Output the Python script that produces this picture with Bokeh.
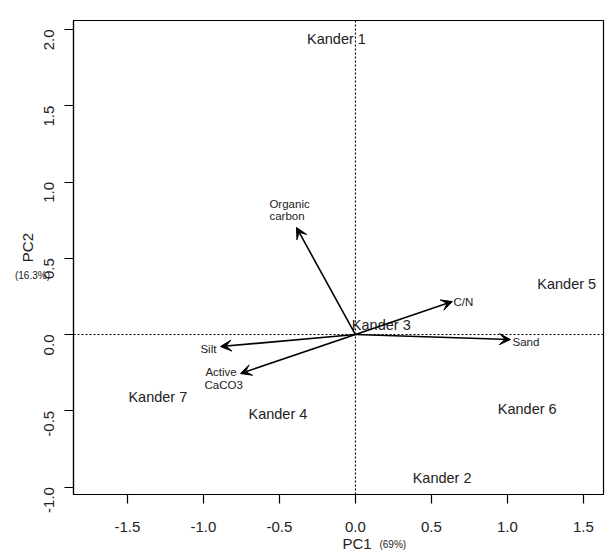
import math
from bokeh.plotting import figure
from bokeh.models import Range1d, FixedTicker, Span, Arrow, VeeHead, Label, ColumnDataSource
from bokeh.embed import file_html
from bokeh.resources import INLINE
from bokeh.core.properties import value

# ---- data ----
sites = ["Kander 1", "Kander 2", "Kander 3", "Kander 4", "Kander 5", "Kander 6", "Kander 7"]
site_pc1 = [-0.125, 0.57, 0.17, -0.51, 1.39, 1.13, -1.30]
site_pc2 = [1.94, -0.94, 0.06, -0.52, 0.33, -0.49, -0.41]

variables = ["Organic carbon", "C/N", "Sand", "Silt", "Active CaCO3"]
load_pc1 = [-0.388, 0.638, 1.02, -0.888, -0.757]
load_pc2 = [0.702, 0.216, -0.033, -0.079, -0.256]

# variable label lines and their anchor (left, middle) positions
var_label_lines = ["Organic", "carbon", "C/N", "Sand", "Silt", "Active", "CaCO3"]
var_label_x = [-0.566, -0.566, 0.645, 1.033, -1.02, -0.987, -0.993]
var_label_y = [0.859, 0.774, 0.216, -0.052, -0.098, -0.243, -0.334]

x_ticks = [-1.5, -1.0, -0.5, 0.0, 0.5, 1.0, 1.5]
x_tick_labels = ["-1.5", "-1.0", "-0.5", "0.0", "0.5", "1.0", "1.5"]
y_ticks = [-1.0, -0.5, 0.0, 0.5, 1.0, 1.5, 2.0]
y_tick_labels = ["-1.0", "-0.5", "0.0", "0.5", "1.0", "1.5", "2.0"]

FONT = "Liberation Sans"
TXT = "#222222"

p = figure(width=614, height=553, title=None,
           x_range=Range1d(-1.855, 1.632), y_range=Range1d(-1.049, 2.059),
           output_backend="svg", toolbar_location=None,
           min_border_left=73, min_border_right=11,
           min_border_top=20, min_border_bottom=59)
p.grid.visible = False
p.outline_line_color = "black"
p.outline_line_width = 1.2
p.background_fill_color = "white"
p.border_fill_color = "white"

for ax in (p.xaxis[0], p.yaxis[0]):
    ax.axis_line_color = "black"
    ax.axis_line_width = 1.2
    ax.major_tick_line_color = "black"
    ax.major_tick_line_width = 1.2
    ax.major_tick_in = 0
    ax.major_tick_out = 9
    ax.minor_tick_line_color = None
    ax.major_label_text_font = FONT
    ax.major_label_text_font_size = "15px"
    ax.major_label_text_color = TXT

p.xaxis.ticker = FixedTicker(ticks=x_ticks)
p.xaxis.major_label_overrides = {t: l for t, l in zip(x_ticks, x_tick_labels)}
p.xaxis.major_label_standoff = 18
p.yaxis.ticker = FixedTicker(ticks=y_ticks)
p.yaxis.major_label_overrides = {t: l for t, l in zip(y_ticks, y_tick_labels)}
p.yaxis.major_label_orientation = math.pi / 2
p.yaxis.major_label_standoff = 15

# dotted reference lines
p.add_layout(Span(location=0, dimension="height", line_color="black", line_width=1.1, line_dash="2 2"))
p.add_layout(Span(location=0, dimension="width", line_color="black", line_width=1.1, line_dash="2 2"))

# site labels
src = ColumnDataSource(dict(x=site_pc1, y=site_pc2, t=sites))
p.text(x="x", y="y", text="t", source=src, text_align="center", text_baseline="middle",
       text_font=value(FONT), text_font_size="14.5px", text_color=TXT)

# loading arrows
for vx, vy in zip(load_pc1, load_pc2):
    p.add_layout(Arrow(x_start=0, y_start=0, x_end=vx, y_end=vy,
                       line_color="black", line_width=1.6,
                       end=VeeHead(size=11, fill_color="black", line_color="black", line_width=1)))

for t, lx, ly in zip(var_label_lines, var_label_x, var_label_y):
    p.add_layout(Label(x=lx, y=ly, text=t, text_align="left", text_baseline="middle",
                       text_font=FONT, text_font_size="11.5px", text_color=TXT))

# axis titles
p.text(x=[-0.0855], y=[-1.370], text=["PC1"], text_align="left", text_baseline="middle",
       text_font=value(FONT), text_font_size="15px", text_color=TXT, level="overlay")
p.text(x=[0.158], y=[-1.377], text=["(69%)"], text_align="left", text_baseline="middle",
       text_font=value(FONT), text_font_size="10px", text_color=TXT, level="overlay")
p.add_layout(Label(x=-2.158, y=0.57, text="PC2", angle=math.pi / 2, text_align="center",
                   text_baseline="middle", text_font=FONT, text_font_size="15px",
                   text_color=TXT), "left")
p.add_layout(Label(x=-2.125, y=0.387, text="(16.3%)", text_align="center", text_baseline="middle",
                   text_font=FONT, text_font_size="10px", text_color=TXT), "above")

open("out.html", "w").write(file_html(p, INLINE))
